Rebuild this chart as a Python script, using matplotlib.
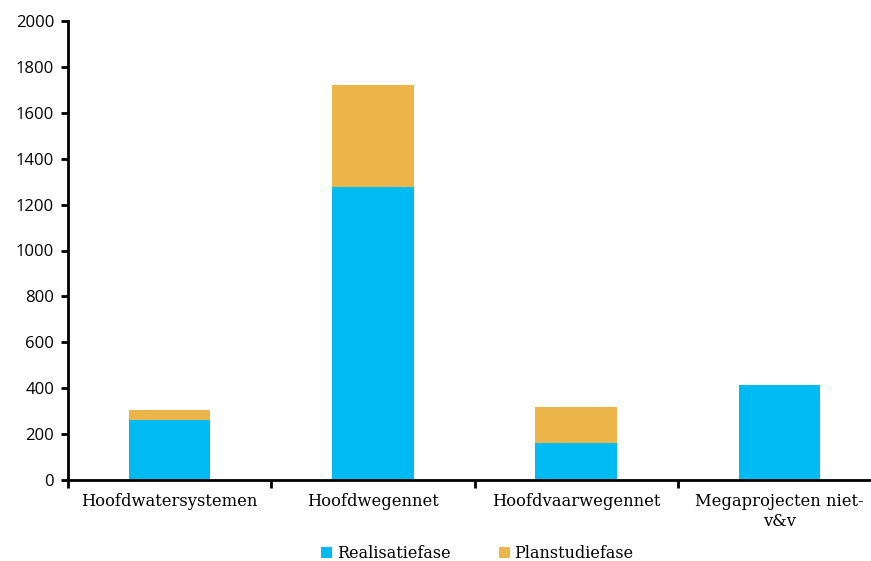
import matplotlib.pyplot as plt
import numpy as np

categories = ["Hoofdwatersystemen", "Hoofdwegennet", "Hoofdvaarwegennet",
              "Megaprojecten niet-\nv&v"]
realisatie = [261, 1277, 161, 414]
planstudie = [44, 444, 157, 0]

blue = "#00BAF2"
orange = "#EBB54A"

fig = plt.figure(figsize=(8.71, 5.61), dpi=100)
ax = fig.add_axes([68 / 871, 81 / 561, 813 / 871, 459 / 561])

x = np.arange(len(categories))
ax.bar(x, realisatie, width=0.4, color=blue, label="Realisatiefase")
ax.bar(x, planstudie, width=0.4, bottom=realisatie, color=orange,
       label="Planstudiefase")

ax.set_xlim(-0.5, len(categories) - 0.5)
ax.set_ylim(0, 2000)
ax.set_yticks(range(0, 2001, 200))
ax.tick_params(axis="y", labelsize=12, width=2, length=5, pad=5)
for lbl in ax.get_yticklabels():
    lbl.set_family(["Open Sans", "DejaVu Sans"])

# category ticks sit between the bars
ax.set_xticks(np.arange(-0.5, len(categories), 1.0))
ax.set_xticklabels([])
ax.tick_params(axis="x", width=2, length=6)
for i, c in enumerate(categories):
    ax.text(i, -58, c, ha="center", va="top", fontsize=11.8,
            family="DejaVu Serif", linespacing=1.2)

for s in ["top", "right"]:
    ax.spines[s].set_visible(False)
for s in ["left", "bottom"]:
    ax.spines[s].set_linewidth(2)

fig.legend(loc="lower center", bbox_to_anchor=(0.548, -0.027), ncol=2,
           frameon=False, prop={"family": "DejaVu Serif", "size": 11.5},
           handlelength=0.7, handleheight=0.7, handletextpad=0.3,
           columnspacing=3.0)

fig.savefig("out.png", dpi=100)
